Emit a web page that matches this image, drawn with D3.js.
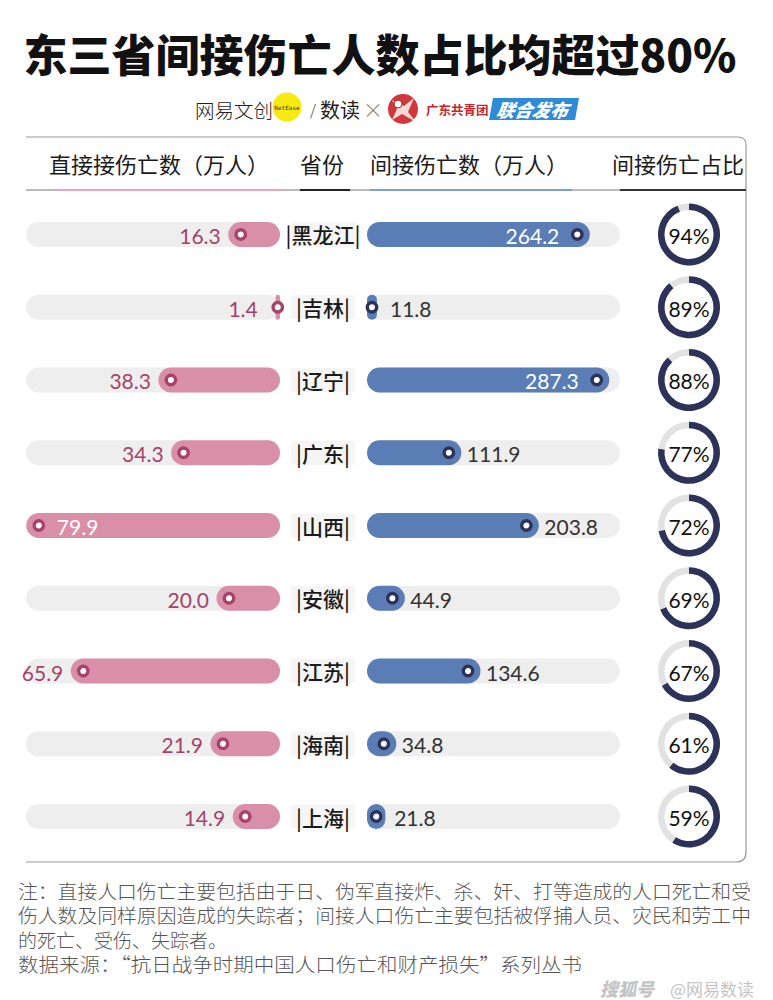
<!DOCTYPE html>
<html><head><meta charset="utf-8">
<script src="https://cdn.jsdelivr.net/npm/d3@7"></script>
<style>body{margin:0;background:#fff}svg{display:block}</style>
</head><body><svg id="c" width="773" height="1000"></svg>
<script>
const provinces = ["黑龙江","吉林","辽宁","广东","山西","安徽","江苏","海南","上海"];
const directValues = [16.3,1.4,38.3,34.3,79.9,20.0,65.9,21.9,14.9];
const indirectValues = [264.2,11.8,287.3,111.9,203.8,44.9,134.6,34.8,21.8];
const indirectShares = [94,89,88,77,72,69,67,61,59];
const headers = ["直接接伤亡数（万人）","省份","间接伤亡数（万人）","间接伤亡占比"];
const titleText = "东三省间接伤亡人数占比均超过80%";
const noteLines = [
  "注：直接人口伤亡主要包括由于日、伪军直接炸、杀、奸、打等造成的人口死亡和受",
  "伤人数及同样原因造成的失踪者；间接人口伤亡主要包括被俘捕人员、灾民和劳工中",
  "的死亡、受伤、失踪者。",
  "数据来源：“抗日战争时期中国人口伤亡和财产损失”系列丛书"
];

const CJK = "'Noto Sans CJK SC','Noto Sans',sans-serif";
const NUM = "Lato,'Noto Sans',sans-serif";
const C = {pink:"#d98fa7", pinkDark:"#a6436b", blue:"#5b7db5", navy:"#2d3258", track:"#eeeeee", ringTrack:"#e2e2e2"};

const svg = d3.select("#c");

// title
svg.append("text").attr("x",380).attr("y",53).attr("text-anchor","middle").attr("dominant-baseline","central")
  .attr("font-family",CJK).attr("font-weight",900).attr("font-size",44).attr("fill","#111").text(titleText);

// logo line
const lg = svg.append("g");
lg.append("text").attr("x",195).attr("y",109).attr("dominant-baseline","central").attr("font-family",CJK)
  .attr("font-weight",300).attr("font-size",19.5).attr("fill","#222").text("网易文创");
lg.append("circle").attr("cx",287).attr("cy",107).attr("r",14.5).attr("fill","#f7ea10");
lg.append("text").attr("x",287).attr("y",107).attr("text-anchor","middle").attr("dominant-baseline","central")
  .attr("font-family","DejaVu Sans Mono").attr("font-size",6).attr("fill","#333").text("NetEase");
lg.append("text").attr("x",310).attr("y",109).attr("dominant-baseline","central").attr("font-family",CJK)
  .attr("font-weight",300).attr("font-size",15).attr("fill","#333").text("/");
lg.append("text").attr("x",320).attr("y",109).attr("dominant-baseline","central").attr("font-family",CJK)
  .attr("font-weight",400).attr("font-size",20).attr("fill","#222").text("数读");
lg.append("text").attr("x",373).attr("y",109).attr("text-anchor","middle").attr("dominant-baseline","central").attr("font-family",CJK)
  .attr("font-weight",300).attr("font-size",20).attr("fill","#777").text("×");
lg.append("circle").attr("cx",403).attr("cy",109).attr("r",15).attr("fill","#d2373d");
lg.append("path").attr("d","M392,100 L404,106 L414,98 L408,112 L416,122 L402,114 L392,120 L397,109 Z").attr("fill","#f5d9d9");
lg.append("circle").attr("cx",398).attr("cy",104).attr("r",4).attr("fill","#fff").attr("stroke","#a22").attr("stroke-width",1);
lg.append("text").attr("x",426).attr("y",109).attr("dominant-baseline","central").attr("font-family",CJK)
  .attr("font-weight",700).attr("font-size",12.5).attr("fill","#c8262d").text("广东共青团");
lg.append("polygon").attr("points","493,98 579,98 575,120 489,120").attr("fill","#2f8bd8");
lg.append("text").attr("x",533).attr("y",109).attr("text-anchor","middle").attr("dominant-baseline","central")
  .attr("font-family",CJK).attr("font-weight",900).attr("font-size",18).attr("font-style","italic")
  .attr("transform","skewX(-10) translate(19,0)").attr("fill","#fff").text("联合发布");

// box
svg.append("path").attr("d","M26,137 L738,137 Q746,137 746,145 L746,852 Q746,862 736,862 L26,862")
  .attr("fill","none").attr("stroke","#9a9a9a").attr("stroke-width",1.2);

// headers
const headerX = [49,300,370,612];
svg.selectAll(".hd").data(headers).join("text").attr("class","hd")
  .attr("x",(d,i)=>headerX[i]).attr("y",163).attr("dominant-baseline","central")
  .attr("font-family",CJK).attr("font-size",22).attr("fill","#1a1a1a").text(d=>d);
svg.append("line").attr("x1",26).attr("x2",746).attr("y1",190).attr("y2",190).attr("stroke","#777").attr("stroke-width",1);
const segs = [[56,284,"#e3a6bb"],[300,350,"#222"],[370,572,"#7f9fd2"],[620,746,"#333"]];
svg.selectAll(".sg").data(segs).join("line").attr("x1",d=>d[0]).attr("x2",d=>d[1]).attr("y1",190).attr("y2",190)
  .attr("stroke",d=>d[2]).attr("stroke-width",2);

// scales
const y = d3.scaleBand().domain(provinces).range([198.1,852.9]);
const xL = d3.scaleLinear().domain([0,80]).range([280,26]);
const xR = d3.scaleLinear().domain([0,300]).range([367,620]);
const BH = 25;

const rows = svg.selectAll(".row").data(provinces.map((p,i)=>({p,d:directValues[i],n:indirectValues[i],s:indirectShares[i]})))
  .join("g").attr("class","row").attr("transform",d=>`translate(0,${y(d.p)+y.bandwidth()/2})`);

// tracks
rows.append("rect").attr("x",xL(80)).attr("y",-BH/2).attr("width",xL(0)-xL(80)).attr("height",BH).attr("rx",BH/2).attr("fill",C.track);
rows.append("rect").attr("x",xR(0)).attr("y",-BH/2).attr("width",xR(300)-xR(0)).attr("height",BH).attr("rx",BH/2).attr("fill",C.track);

// left bars
rows.append("rect").attr("x",d=>xL(d.d)).attr("y",-BH/2).attr("width",d=>xL(0)-xL(d.d)).attr("height",BH)
  .attr("rx",d=>Math.min(BH/2,(xL(0)-xL(d.d))/2)).attr("fill",C.pink);
const ldot = d=>xL(d.d)+Math.min(BH/2,(xL(0)-xL(d.d))/2);
rows.append("circle").attr("cx",ldot).attr("cy",0).attr("r",4.7).attr("fill","#fff").attr("stroke",C.pinkDark).attr("stroke-width",3.4);
rows.append("text").attr("x",d=>d.d>=70?ldot(d)+18:ldot(d)-20).attr("y",1).attr("dominant-baseline","central")
  .attr("text-anchor",d=>d.d>=70?"start":"end").attr("font-family",NUM).attr("font-size",21)
  .attr("fill",d=>d.d>=70?"#fff":C.pinkDark).text(d=>d.d.toFixed(1));

// right bars
rows.append("rect").attr("x",xR(0)).attr("y",-BH/2).attr("width",d=>xR(d.n)-xR(0)).attr("height",BH)
  .attr("rx",d=>Math.min(BH/2,(xR(d.n)-xR(0))/2)).attr("fill",C.blue);
const rdot = d=>xR(d.n)-Math.min(BH/2,(xR(d.n)-xR(0))/2);
rows.append("circle").attr("cx",rdot).attr("cy",0).attr("r",4.7).attr("fill","#fff").attr("stroke",C.navy).attr("stroke-width",3.4);
rows.append("text").attr("x",d=>d.n>=250?rdot(d)-18:rdot(d)+18).attr("y",1).attr("dominant-baseline","central")
  .attr("text-anchor",d=>d.n>=250?"end":"start").attr("font-family",NUM).attr("font-size",21)
  .attr("fill",d=>d.n>=250?"#fff":"#333").text(d=>d.n.toFixed(1));

// province labels
rows.append("rect").attr("x",291).attr("y",-12).attr("width",64).attr("height",24).attr("fill","#f5f5f5");
rows.append("text").attr("x",323).attr("y",0).attr("text-anchor","middle").attr("dominant-baseline","central")
  .attr("font-family",CJK).attr("font-weight",500).attr("font-size",21).attr("fill","#1a1a1a").text(d=>"|"+d.p+"|");

// donuts
const arcBg = d3.arc().innerRadius(24.5).outerRadius(31).startAngle(0).endAngle(2*Math.PI);
const arcFg = d3.arc().innerRadius(24.5).outerRadius(31).startAngle(0);
const dg = rows.append("g").attr("transform","translate(689,0)");
dg.append("path").attr("d",arcBg()).attr("fill",C.ringTrack);
dg.append("path").attr("d",d=>arcFg({endAngle:d.s/100*2*Math.PI})).attr("fill",C.navy);
dg.append("text").attr("x",0).attr("y",1).attr("text-anchor","middle").attr("dominant-baseline","central")
  .attr("font-family",NUM).attr("font-size",21).attr("fill","#111").text(d=>d.s+"%");

// notes
const noteY = [890,914.5,939,963.5];
const noteLen = [733,733,null,564];
svg.selectAll(".nt").data(noteLines).join("text").attr("class","nt")
  .attr("x",18).attr("y",(d,i)=>noteY[i]).attr("dominant-baseline","central")
  .attr("font-family",CJK).attr("font-weight",300).attr("font-size",19).attr("fill","#555")
  .each(function(d,i){ if(noteLen[i]) d3.select(this).attr("textLength",noteLen[i]).attr("lengthAdjust","spacingAndGlyphs"); })
  .text(d=>d);

// watermark
svg.append("text").attr("x",600).attr("y",988).attr("dominant-baseline","central").attr("font-family",CJK)
  .attr("font-weight",900).attr("font-style","italic").attr("font-size",18).attr("fill","#c4c4c4").text("搜狐号");
svg.append("text").attr("x",670).attr("y",988).attr("dominant-baseline","central").attr("font-family",CJK)
  .attr("font-weight",400).attr("font-size",17).attr("fill","#c4c4c4").text("@网易数读");
</script></body></html>
